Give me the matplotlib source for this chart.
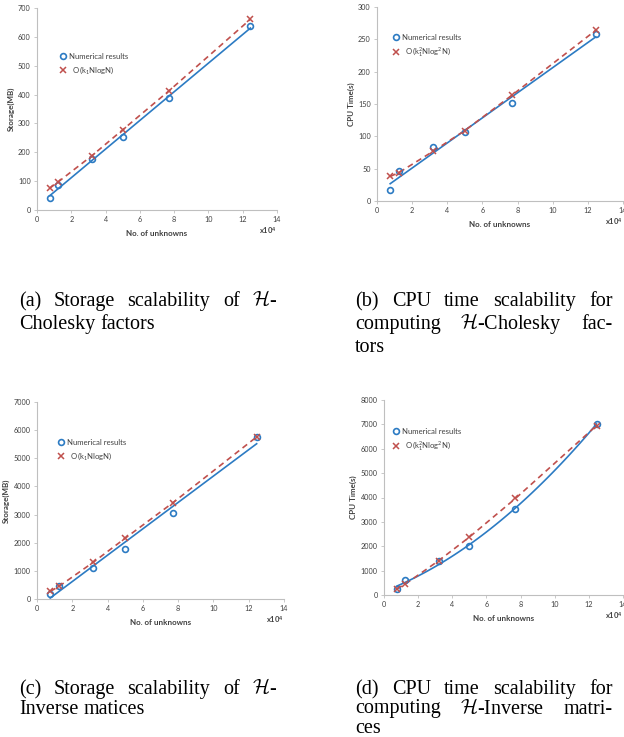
import numpy as np
import matplotlib
matplotlib.use('Agg')
import matplotlib.pyplot as plt

plt.rcParams['font.family'] = ['Lato', 'DejaVu Sans']
plt.rcParams['mathtext.fontset'] = 'custom'
plt.rcParams['mathtext.rm'] = 'Lato'
plt.rcParams['mathtext.it'] = 'Lato:italic'
plt.rcParams['mathtext.bf'] = 'Lato:bold'

# numero de incognitas (x10^4)
n_unknowns = [0.75, 1.25, 3.2, 5.0, 7.7, 12.45]

# (a) almacenamiento H-Cholesky (MB)
chol_storage_num = [40, 88, 178, 253, 387, 636]
chol_storage_est = [76, 98, 188, 278, 413, 661]
# (b) tiempo CPU H-Cholesky (s)
chol_time_num = [17, 46, 83, 106, 151, 259]
chol_time_est = [38, 44, 77, 109, 164, 264]
# (c) almacenamiento H-Inversa (MB)
inv_storage_num = [190, 450, 1100, 1760, 3060, 5760]
inv_storage_est = [270, 450, 1310, 2160, 3420, 5760]
# (d) tiempo CPU H-Inversa (s)
inv_time_num = [246, 600, 1380, 1990, 3540, 7030]
inv_time_est = [246, 450, 1406, 2375, 3960, 6950]

x_ticks = [0, 2, 4, 6, 8, 10, 12, 14]
label_num = 'Numerical results'
label_nlogn = '  O(k$_1$NlogN)'
label_nlog2n = '  O(k$_1^2$Nlog$^2$N)'

captions = {
    'a': ['(a) Storage scalability of $\\mathcal{H}$-', 'Cholesky factors'],
    'b': ['(b) CPU time scalability for', 'computing $\\mathcal{H}$-Cholesky fac-', 'tors'],
    'c': ['(c) Storage scalability of $\\mathcal{H}$-', 'Inverse matices'],
    'd': ['(d) CPU time scalability for', 'computing $\\mathcal{H}$-Inverse matri-', 'ces'],
}

W, H = 624, 737
BLUE = '#2C7BC3'
RED = '#C0504D'
GRIS = '#BFBFBF'
TXT = '#404040'

fig = plt.figure(figsize=(W / 100, H / 100), dpi=100)


def px_axes(l, r, t, b):
    return fig.add_axes([l / W, 1 - b / H, (r - l) / W, (b - t) / H])


def panel(ax, y_num, y_est, ymax, ystep, ylabel, est_label, grado, leg_xy):
    x = np.array(n_unknowns)
    coef = np.polyfit(x, y_num, grado)
    xs = np.linspace(x.min(), x.max(), 100)
    ax.plot(xs, np.polyval(coef, xs), color=BLUE, lw=1.2, zorder=2)
    ax.plot(x, y_est, color=RED, lw=1.2, ls=(0, (3.5, 2.5)), zorder=2)
    ax.plot(x, y_num, 'o', mfc='none', mec=BLUE, ms=4.2, mew=1.2,
            label=label_num, zorder=3)
    ax.plot(x, y_est, 'x', color=RED, ms=4, mew=1.1, label=est_label, zorder=3)
    ax.set_xlim(0, 14)
    ax.set_ylim(0, ymax)
    ax.set_xticks(x_ticks)
    ax.set_yticks(np.arange(0, ymax + 1, ystep))
    for s in ['top', 'right']:
        ax.spines[s].set_visible(False)
    for s in ['left', 'bottom']:
        ax.spines[s].set_color(GRIS)
        ax.spines[s].set_linewidth(0.8)
    ax.tick_params(length=2.5, width=0.6, color=GRIS, labelsize=5.2,
                   labelcolor=TXT, pad=2)
    ax.set_xlabel('No. of unknowns', fontsize=5.8, fontweight='bold',
                  color=TXT, labelpad=5)
    ax.set_ylabel(ylabel, fontsize=5.8, fontweight='bold', color=TXT,
                  labelpad=2.5)
    ax.text(1.0, -0.075, 'x10$^\\mathbf{4}$', transform=ax.transAxes,
            fontsize=5.5, fontweight='bold', color=TXT, ha='right', va='top')
    ax.legend(loc='upper left', bbox_to_anchor=leg_xy, frameon=False,
              fontsize=5.6, handlelength=0.8, handletextpad=0.3,
              labelspacing=0.55, borderpad=0, borderaxespad=0,
              labelcolor=TXT)


ax_a = px_axes(37, 277, 8, 210)
panel(ax_a, chol_storage_num, chol_storage_est, 700, 100, 'Storage(MB)',
      label_nlogn, 1, (0.096, 0.777))
ax_b = px_axes(377, 623, 7, 201)
panel(ax_b, chol_time_num, chol_time_est, 300, 50, 'CPU Time(s)',
      label_nlog2n, 1, (0.065, 0.861))
ax_c = px_axes(37, 284, 402, 599)
panel(ax_c, inv_storage_num, inv_storage_est, 7000, 1000, 'Storage(MB)',
      label_nlogn, 1, (0.085, 0.812))
ax_d = px_axes(384, 623, 400, 595)
panel(ax_d, inv_time_num, inv_time_est, 8000, 1000, 'CPU Time(s)',
      label_nlog2n, 2, (0.038, 0.856))

# leyendas de las subfiguras (texto justificado)
rend = fig.canvas.get_renderer()
cap_kw = dict(fontsize=14.5, family=['Liberation Serif', 'DejaVu Serif'],
              math_fontfamily='cm', va='baseline', color='black')


def linea(texto, x0, x1, y, justificar):
    palabras = texto.split(' ')
    ts = [fig.text(0, 1 - y / H, p, **cap_kw) for p in palabras]
    anchos = [t.get_window_extent(rend).width for t in ts]
    if justificar and len(ts) > 1:
        hueco = (x1 - x0 - sum(anchos)) / (len(ts) - 1)
    else:
        hueco = 0.27 * 14.5 * 100 / 72
    pos = x0
    for t, a in zip(ts, anchos):
        t.set_x(pos / W)
        pos += a + hueco


def caption(lineas, x0, x1, y0, dy):
    for i, l in enumerate(lineas):
        linea(l, x0, x1, y0 + i * dy, i < len(lineas) - 1)


caption(captions['a'], 19, 277, 306, 23)
caption(captions['b'], 355, 613, 306, 23)
caption(captions['c'], 19, 277, 694, 19.5)
caption(captions['d'], 355, 613, 694, 19.5)

fig.savefig('out.png', dpi=100)
